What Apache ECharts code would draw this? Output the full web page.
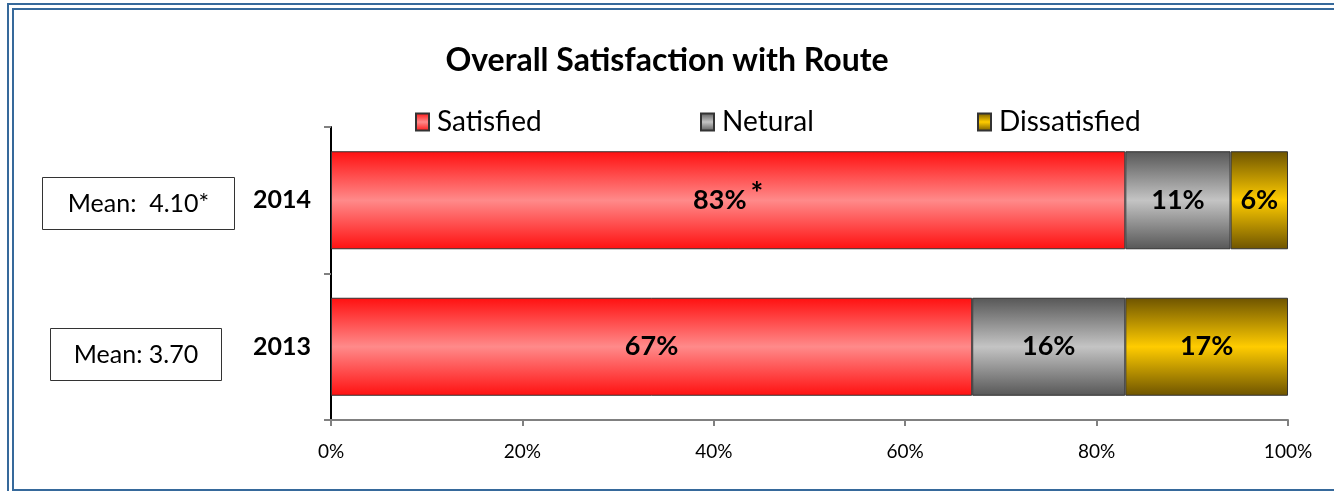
<!DOCTYPE html>
<html>
<head>
<meta charset="utf-8">
<script src="https://cdn.jsdelivr.net/npm/echarts@6/dist/echarts.min.js"></script>
<style>
html, body { margin: 0; padding: 0; background: #fff; overflow: hidden; }
#frame-outer {
  position: absolute; left: 7px; top: 3px; width: 1340px; height: 500px;
  border: 2px solid #36699b; box-sizing: border-box;
}
#frame-inner {
  position: absolute; left: 12px; top: 8px; width: 1340px; height: 483px;
  border: 2px solid #36699b; box-sizing: border-box;
}
#chart { position: absolute; left: 0; top: 0; width: 1334px; height: 491px; }
</style>
</head>
<body>
<div id="frame-outer"></div>
<div id="frame-inner"></div>
<div id="chart"></div>
<script>
// data
const years = ['2014', '2013']
const means = ['Mean:  4.10*', 'Mean: 3.70']
const satisfied = [83, 67]
const neutral = [11, 16]
const dissatisfied = [6, 17]
const satisfiedNote = ['*', '']
const seriesNames = ['Satisfied', 'Netural', 'Dissatisfied']

const font = 'Lato, "Open Sans", sans-serif'

function grad (edge, mid) {
  return new echarts.graphic.LinearGradient(0, 0, 0, 1, [
    { offset: 0, color: edge },
    { offset: 0.5, color: mid },
    { offset: 1, color: edge }
  ])
}

const chart = echarts.init(document.getElementById('chart'))

const labelBase = {
  show: true,
  position: 'inside',
  fontFamily: font,
  fontWeight: 'bold',
  fontSize: 27,
  color: '#000',
  formatter: p => p.value + '%'
}

// one legend per item so that each can sit where the original has it
const legendLeft = [410, 695, 972]
const legends = seriesNames.map((name, i) => ({
  top: 103,
  left: legendLeft[i],
  icon: 'rect',
  itemWidth: 13,
  itemHeight: 17,
  itemGap: 0,
  textStyle: { fontFamily: font, fontSize: 28, color: '#000', padding: [0, 0, 0, 3] },
  data: [name]
}))

// mean boxes left of the year labels
const meanBoxes = [
  { x: 42, y: 177, w: 192, h: 52 },
  { x: 50, y: 328, w: 171, h: 52 }
]
const graphics = means.map((m, i) => ({
  type: 'group',
  left: meanBoxes[i].x,
  top: meanBoxes[i].y,
  children: [
    {
      type: 'rect',
      shape: { x: 0, y: 0, width: meanBoxes[i].w, height: meanBoxes[i].h },
      style: { fill: '#fff', stroke: '#333', lineWidth: 1 }
    },
    {
      type: 'text',
      x: meanBoxes[i].w / 2,
      y: meanBoxes[i].h / 2,
      style: {
        text: m,
        fontFamily: font,
        fontSize: 25,
        fill: '#000',
        align: 'center',
        verticalAlign: 'middle'
      }
    }
  ]
}))

const option = {
  animation: false,
  textStyle: { fontFamily: font },
  title: {
    text: 'Overall Satisfaction with Route',
    left: 'center',
    top: 40,
    textStyle: { fontFamily: font, fontWeight: 'bold', fontSize: 32, color: '#000' }
  },
  legend: legends,
  graphic: graphics,
  grid: { left: 331, right: 46, top: 127, bottom: 71 },
  xAxis: {
    type: 'value',
    min: 0,
    max: 100,
    interval: 20,
    splitLine: { show: false },
    axisLine: { show: true, lineStyle: { color: '#808080', width: 2 } },
    axisTick: { show: true, length: 6, lineStyle: { color: '#808080', width: 2 } },
    axisLabel: {
      margin: 22,
      fontSize: 19,
      color: '#000',
      fontFamily: font,
      formatter: v => v + '%'
    }
  },
  yAxis: {
    type: 'category',
    inverse: true,
    data: years,
    axisLine: { show: true, lineStyle: { color: '#000', width: 2 } },
    axisTick: { show: true, length: 7, lineStyle: { color: '#808080', width: 2 } },
    axisLabel: {
      margin: 20,
      fontFamily: font,
      fontSize: 25,
      fontWeight: 'bold',
      color: '#000'
    }
  },
  series: [
    {
      name: 'Satisfied',
      type: 'bar',
      stack: 'all',
      barWidth: 98,
      data: satisfied,
      itemStyle: { color: grad('#ff1010', '#ff8a8a'), borderColor: '#333', borderWidth: 1 },
      label: Object.assign({}, labelBase, {
        formatter: p => p.value + '%' + (satisfiedNote[p.dataIndex] ? '{s|' + satisfiedNote[p.dataIndex] + '}' : ''),
        rich: { s: { fontFamily: font, fontWeight: 'bold', fontSize: 30, color: '#000', verticalAlign: 'top', padding: [0, 0, 12, 4] } }
      })
    },
    {
      name: 'Netural',
      type: 'bar',
      stack: 'all',
      data: neutral,
      itemStyle: { color: grad('#575757', '#c4c4c4'), borderColor: '#333', borderWidth: 1 },
      label: labelBase
    },
    {
      name: 'Dissatisfied',
      type: 'bar',
      stack: 'all',
      data: dissatisfied,
      itemStyle: { color: grad('#6e5400', '#ffcc00'), borderColor: '#333', borderWidth: 1 },
      label: labelBase
    }
  ]
}

chart.setOption(option)
</script>
</body>
</html>
